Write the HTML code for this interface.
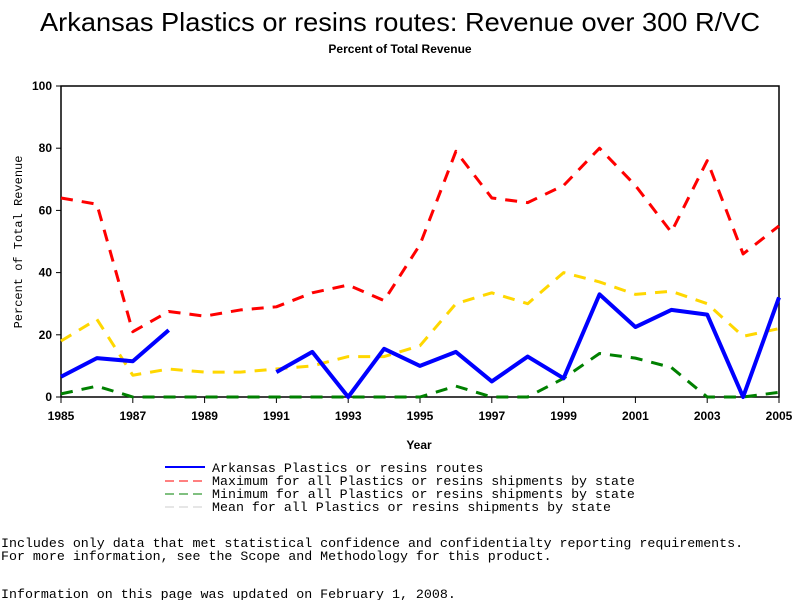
<!DOCTYPE html>
<html><head><meta charset="utf-8"><style>
body{margin:0;background:#fff;width:800px;height:600px;overflow:hidden}
svg{display:block}
</style></head><body>
<svg id="chart" width="800" height="600" xmlns="http://www.w3.org/2000/svg">
<text x="400" y="31" text-anchor="middle" font-family="Liberation Sans, sans-serif" font-size="26" textLength="720" lengthAdjust="spacingAndGlyphs">Arkansas Plastics or resins routes: Revenue over 300 R/VC</text>
<text x="400" y="53" text-anchor="middle" font-family="Liberation Sans, sans-serif" font-size="12" font-weight="bold">Percent of Total Revenue</text>
<rect x="61" y="86" width="718" height="311" fill="none" stroke="#000" stroke-width="1.5"/>
<g id="axes"></g>
<g id="series"></g>
<text x="419" y="449" text-anchor="middle" font-family="Liberation Sans, sans-serif" font-size="12" font-weight="bold">Year</text>
<text transform="translate(22,242) rotate(-90)" text-anchor="middle" font-family="Liberation Mono, monospace" font-size="12">Percent of Total Revenue</text>
<g font-family="Liberation Mono, monospace" font-size="13.3">
<g><line x1="165" y1="467" x2="205" y2="467" stroke="#0000ff" stroke-width="2"/><text x="212" y="472">Arkansas Plastics or resins routes</text></g>
<g><line x1="165" y1="481" x2="205" y2="481" stroke="#ff0000" stroke-width="1" stroke-dasharray="9,5"/><text x="212" y="485">Maximum for all Plastics or resins shipments by state</text></g>
<g><line x1="165" y1="494" x2="205" y2="494" stroke="#008000" stroke-width="1" stroke-dasharray="9,5"/><text x="212" y="498">Minimum for all Plastics or resins shipments by state</text></g>
<g><line x1="165" y1="507" x2="205" y2="507" stroke="#cccccc" stroke-width="1" stroke-dasharray="9,5"/><text x="212" y="511">Mean for all Plastics or resins shipments by state</text></g>
</g>
<g font-family="Liberation Mono, monospace" font-size="13.3">
<text x="1" y="547">Includes only data that met statistical confidence and confidentialty reporting requirements.</text>
<text x="1" y="560">For more information, see the Scope and Methodology for this product.</text>
<text x="1" y="598">Information on this page was updated on February 1, 2008.</text>
</g>
</svg>
<script>
const years=[1985,1986,1987,1988,1989,1990,1991,1992,1993,1994,1995,1996,1997,1998,1999,2000,2001,2002,2003,2004,2005];
const maxVals=[64,62,21,27.5,26,28,29,33.5,36,31,49,79,64,62.5,68,80,68,53,76,46,55];
const meanVals=[18,25,7,9,8,8,9,10,13,13,16.5,30,33.5,30,40,37,33,34,30,19.5,22];
const minVals=[1,3.5,0,0,0,0,0,0,0,0,0,3.5,0,0,6,14,12.5,9.5,0,0,1.5];
const arkVals=[6.5,12.5,11.5,21.5,null,null,8,14.5,0,15.5,10,14.5,5,13,6,33,22.5,28,26.5,0,32];
const yTicks=[0,20,40,60,80,100];
const xTicks=[1985,1987,1989,1991,1993,1995,1997,1999,2001,2003,2005];
const NS="http://www.w3.org/2000/svg";
const X=y=>61+(y-1985)*(718/20);
const Y=v=>397-v*3.11;
const axes=document.getElementById('axes'),ser=document.getElementById('series');
function mk(t,a,p){const e=document.createElementNS(NS,t);for(const k in a)e.setAttribute(k,a[k]);p.appendChild(e);return e;}
yTicks.forEach(v=>{
 const l=mk('line',{x1:56,x2:61,y1:Y(v),y2:Y(v),stroke:'#000'},axes);
 
 
 const t=mk('text',{x:52,y:Y(v)+4,'text-anchor':'end','font-family':'Liberation Sans, sans-serif','font-size':12,'font-weight':'bold'},axes);
 t.textContent=v;
 
 
});
xTicks.forEach(v=>{
 const l=mk('line',{x1:X(v),x2:X(v),y1:397,y2:403,stroke:'#000'},axes);
 
 
 const t=mk('text',{x:X(v),y:420,'text-anchor':'middle','font-family':'Liberation Sans, sans-serif','font-size':12,'font-weight':'bold'},axes);
 t.textContent=v;
 
 
});
function draw(vals,color,w,dash,name){
 let segs=[],cur=[];
 vals.forEach((v,i)=>{if(v===null){if(cur.length)segs.push(cur);cur=[];}else cur.push(X(years[i])+','+Y(v));});
 if(cur.length)segs.push(cur);
 segs.forEach(s=>{
  const p=mk('polyline',{points:s.join(' '),fill:'none',stroke:color,'stroke-width':w,'stroke-linejoin':'round'},ser);
  if(dash)p.setAttribute('stroke-dasharray',dash);
  
  
 });
}
draw(maxVals,'#ff0000',3,'12,9','max-line');
draw(meanVals,'#ffd700',3,'12,9','mean-line');
draw(minVals,'#008000',3,'12,9','min-line');
draw(arkVals,'#0000ff',4,null,'arkansas-line');
</script>
</body></html>
